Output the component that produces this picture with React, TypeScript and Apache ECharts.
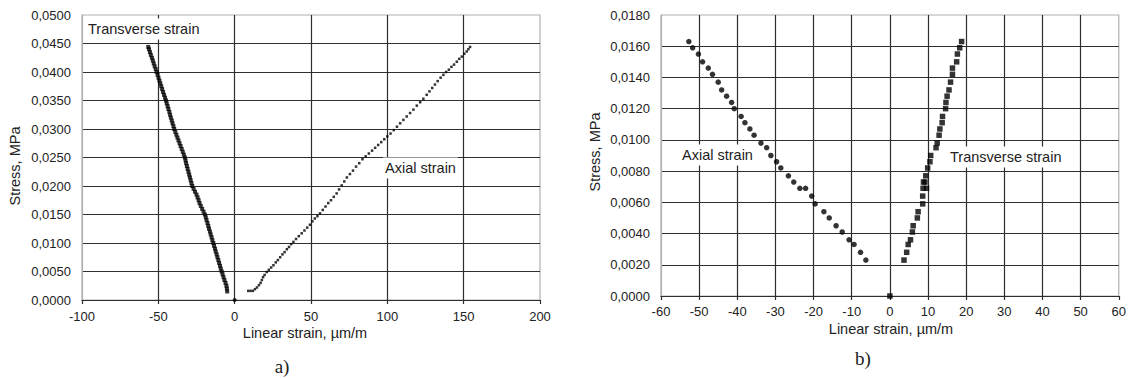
import React, { useEffect, useRef } from "react";
import * as echarts from "echarts";

// ---- Chart a) data: [linear strain µm/m, stress MPa]
const transverseA: number[][] = [
  [-4.9, 0.0015], [-5.1, 0.002], [-5.4, 0.0025], [-6.0, 0.003], [-6.7, 0.0035], [-7.3, 0.004], [-7.9, 0.0045], [-8.5, 0.005],
  [-9.1, 0.0055], [-9.6, 0.006], [-10.2, 0.0065], [-10.7, 0.007], [-11.3, 0.0075], [-11.8, 0.008], [-12.4, 0.0085], [-12.9, 0.009], [-13.5, 0.0095], [-14.0, 0.01],
  [-14.6, 0.0105], [-15.1, 0.011], [-15.7, 0.0115], [-16.2, 0.012], [-16.8, 0.0125], [-17.3, 0.013], [-17.8, 0.0135], [-18.4, 0.014], [-18.9, 0.0145], [-19.5, 0.015],
  [-20.4, 0.0155], [-21.3, 0.016], [-22.2, 0.0165], [-23.0, 0.017], [-23.6, 0.0175], [-24.3, 0.018], [-25.0, 0.0185], [-26.0, 0.019], [-26.9, 0.0195], [-27.8, 0.02],
  [-28.3, 0.0205], [-28.8, 0.021], [-29.3, 0.0215], [-29.8, 0.022], [-30.3, 0.0225], [-30.8, 0.023], [-31.3, 0.0235], [-31.8, 0.024], [-32.2, 0.0245], [-32.6, 0.025],
  [-33.3, 0.0255], [-34.0, 0.026], [-34.7, 0.0265], [-35.4, 0.027], [-36.1, 0.0275], [-36.8, 0.028], [-37.5, 0.0285], [-38.2, 0.029], [-38.9, 0.0295], [-39.6, 0.03],
  [-40.1, 0.0305], [-40.7, 0.031], [-41.2, 0.0315], [-41.8, 0.032], [-42.3, 0.0325], [-42.8, 0.033], [-43.4, 0.0335], [-43.9, 0.034], [-44.5, 0.0345], [-45.0, 0.035],
  [-45.6, 0.0355], [-46.3, 0.036], [-46.9, 0.0365], [-47.5, 0.037], [-48.1, 0.0375], [-48.7, 0.038], [-49.3, 0.0385], [-49.9, 0.039], [-50.5, 0.0395], [-51.1, 0.04],
  [-51.7, 0.0405], [-52.4, 0.041], [-53.0, 0.0415], [-53.6, 0.042], [-54.2, 0.0425], [-54.9, 0.043], [-55.5, 0.0435], [-56.1, 0.044], [-56.6, 0.0444],
];

const axialA: number[][] = [
  [8.9, 0.0016], [10.4, 0.0016], [11.9, 0.0016], [13.3, 0.0019], [14.6, 0.0022], [15.9, 0.0026], [17.0, 0.003], [17.8, 0.0035],
  [18.6, 0.004], [19.6, 0.0044], [21.0, 0.0049], [22.4, 0.0053], [23.9, 0.0057], [25.4, 0.0061], [26.9, 0.0066], [28.3, 0.007],
  [29.8, 0.0075], [31.3, 0.008], [32.7, 0.0084], [34.2, 0.0089], [35.6, 0.0093], [37.0, 0.0098], [38.5, 0.0102], [40.2, 0.0107],
  [42.0, 0.0112], [43.9, 0.0117], [45.7, 0.0122], [47.5, 0.0127], [49.3, 0.0132], [50.9, 0.0138], [52.5, 0.0143], [54.2, 0.0147],
  [55.9, 0.0152], [57.7, 0.0158], [59.5, 0.0164], [61.3, 0.017], [63.1, 0.0175], [64.9, 0.0181], [66.8, 0.0187], [68.4, 0.0194],
  [70.1, 0.0201], [71.8, 0.0208], [73.5, 0.0215], [75.5, 0.0221], [77.5, 0.0227], [79.5, 0.0234], [81.6, 0.024], [83.7, 0.0247],
  [85.8, 0.0252], [87.9, 0.0257], [90.0, 0.0262], [92.0, 0.0267], [94.0, 0.0272], [96.0, 0.0277], [98.0, 0.0282], [100.0, 0.0287],
  [102.1, 0.0292], [104.2, 0.0298], [106.3, 0.0304], [108.4, 0.031], [110.5, 0.0316], [112.7, 0.0322], [114.9, 0.0328], [117.1, 0.0334],
  [119.3, 0.0341], [121.5, 0.0347], [123.6, 0.0353], [125.8, 0.036], [127.6, 0.0366], [129.4, 0.0372], [131.2, 0.0378], [133.0, 0.0384],
  [134.9, 0.039], [136.7, 0.0395], [138.5, 0.04], [140.3, 0.0404], [142.0, 0.0409], [143.7, 0.0413], [145.5, 0.0418], [147.1, 0.0423],
  [148.8, 0.0427], [150.4, 0.0432], [152.0, 0.0436], [153.1, 0.044], [154.2, 0.0444],
];

const originA: number[][] = [[0, 0]];

// ---- Chart b) data
const axialB: number[][] = [
  [-52.7, 0.0163], [-51.7, 0.0159], [-50.2, 0.0155], [-49.1, 0.015], [-47.6, 0.0146], [-46.5, 0.0142], [-45.0, 0.0137], [-44.1, 0.0132],
  [-42.8, 0.0128], [-41.5, 0.0124], [-40.8, 0.012], [-39.0, 0.0115], [-38.0, 0.0111], [-36.7, 0.0107], [-35.6, 0.0103], [-33.8, 0.0098],
  [-32.3, 0.0095], [-31.2, 0.009], [-29.7, 0.0086], [-28.6, 0.0082], [-26.6, 0.0077], [-25.2, 0.0073], [-23.6, 0.0069], [-22.1, 0.0069],
  [-20.5, 0.0064], [-19.6, 0.0059], [-17.3, 0.0054], [-15.9, 0.005], [-14.1, 0.0045], [-12.5, 0.0041], [-10.7, 0.0036], [-9.4, 0.0033],
  [-7.7, 0.0028], [-6.3, 0.0023],
];

const transverseB: number[][] = [
  [3.7, 0.0023], [4.4, 0.0028], [4.8, 0.0033], [5.4, 0.0036], [5.9, 0.0041], [6.1, 0.0045], [7.2, 0.005], [7.4, 0.0054],
  [8.6, 0.0059], [8.6, 0.0064], [8.7, 0.0069], [9.6, 0.0069], [8.8, 0.0073], [9.2, 0.0073], [9.4, 0.0077], [9.9, 0.0082],
  [10.5, 0.0086], [10.7, 0.009], [12.1, 0.0095], [12.4, 0.0098], [12.9, 0.0103], [13.1, 0.0107], [13.7, 0.0111], [13.8, 0.0115],
  [14.6, 0.012], [14.7, 0.0124], [15.0, 0.0128], [15.5, 0.0132], [15.9, 0.0137], [16.4, 0.0142], [16.4, 0.0146], [17.5, 0.015],
  [17.7, 0.0155], [18.3, 0.0159], [18.8, 0.0163],
];

const originB: number[][] = [[0, 0]];

const xTicksA = { min: -100, max: 200, interval: 50 };
const yTicksA = { min: 0, max: 0.05, interval: 0.005 };
const xTicksB = { min: -60, max: 60, interval: 10 };
const yTicksB = { min: 0, max: 0.018, interval: 0.002 };

const FONT = "'Liberation Sans', Arial, sans-serif";
const SERIF = "'Liberation Serif', 'Times New Roman', serif";
const TXT = "#222";
const GRIDC = "#2e2e2e";
const BORDER = "#b0b0b0";

function xAxis(gridIndex: number, t: any, margin: number) {
  return {
    type: "value",
    gridIndex,
    min: t.min,
    max: t.max,
    interval: t.interval,
    axisLine: { show: true, onZero: false, lineStyle: { color: GRIDC, width: 1.2 } },
    axisTick: { show: true, length: 4, lineStyle: { color: GRIDC, width: 1.2 } },
    axisLabel: { color: TXT, fontFamily: FONT, fontSize: 13, margin },
    splitLine: { show: true, showMinLine: false, showMaxLine: false, lineStyle: { color: GRIDC, width: 1.2, opacity: 1 } },
  };
}

function yAxis(gridIndex: number, t: any) {
  return {
    type: "value",
    gridIndex,
    min: t.min,
    max: t.max,
    interval: t.interval,
    axisLine: { show: true, onZero: false, lineStyle: { color: BORDER, width: 1.2 } },
    axisTick: { show: false },
    axisLabel: {
      color: TXT,
      fontFamily: FONT,
      fontSize: 13,
      margin: 11,
      formatter: (v: number) => v.toFixed(4).replace(".", ","),
    },
    splitLine: { show: true, showMinLine: false, showMaxLine: false, lineStyle: { color: GRIDC, width: 1.2, opacity: 1 } },
  };
}

function label(text: string, x: number, y: number, opts: any = {}) {
  return {
    type: "text",
    x,
    y,
    z: 100,
    rotation: opts.rotation || 0,
    style: {
      text,
      fill: TXT,
      font: `${opts.size || 14.5}px ${opts.family || FONT}`,
      textAlign: opts.align || "center",
      textVerticalAlign: "middle",
      backgroundColor: opts.bg,
      padding: opts.bg ? [3, 2, 3, 2] : 0,
    },
  };
}

export default function App() {
  const ref = useRef<HTMLDivElement>(null);
  useEffect(() => {
    if (!ref.current) return;
    const chart = echarts.init(ref.current, undefined, { renderer: "svg" });
    chart.setOption({
      animation: false,
      backgroundColor: "#fff",
      grid: [
        { left: 82, top: 15, width: 458, height: 285, show: true, borderColor: BORDER, borderWidth: 1.2, backgroundColor: "transparent" },
        { left: 661, top: 15, width: 458, height: 281, show: true, borderColor: BORDER, borderWidth: 1.2, backgroundColor: "transparent" },
      ],
      xAxis: [xAxis(0, xTicksA, 10), xAxis(1, xTicksB, 9)],
      yAxis: [yAxis(0, yTicksA), yAxis(1, yTicksB)],
      series: [
        { type: "scatter", xAxisIndex: 0, yAxisIndex: 0, data: transverseA, symbol: "rect", symbolSize: 4, itemStyle: { color: "#000" } },
        { type: "scatter", xAxisIndex: 0, yAxisIndex: 0, data: axialA, symbol: "rect", symbolSize: 2.5, itemStyle: { color: "#000" } },
        { type: "scatter", xAxisIndex: 0, yAxisIndex: 0, data: originA, symbol: "circle", symbolSize: 4, itemStyle: { color: "#000" } },
        { type: "scatter", xAxisIndex: 1, yAxisIndex: 1, data: axialB, symbol: "circle", symbolSize: 5.5, itemStyle: { color: "#000" } },
        { type: "scatter", xAxisIndex: 1, yAxisIndex: 1, data: transverseB, symbol: "rect", symbolSize: 5.5, itemStyle: { color: "#000" } },
        { type: "scatter", xAxisIndex: 1, yAxisIndex: 1, data: originB, symbol: "rect", symbolSize: 5.5, itemStyle: { color: "#000" } },
      ],
      graphic: [
        label("Stress, MPa", 15, 166, { rotation: Math.PI / 2 }),
        label("Linear strain, µm/m", 305, 333),
        label("Transverse strain", 86, 29, { align: "left", bg: "#fff" }),
        label("Axial strain", 383, 168, { align: "left", bg: "#fff" }),
        label("a)", 282, 366, { size: 19, family: SERIF }),
        label("Stress, MPa", 595, 152, { rotation: Math.PI / 2 }),
        label("Linear strain, µm/m", 891, 329),
        label("Axial strain", 680, 155, { align: "left", bg: "#fff" }),
        label("Transverse strain", 948, 157, { align: "left", bg: "#fff" }),
        label("b)", 863, 358, { size: 19, family: SERIF }),
      ],
    });
    return () => chart.dispose();
  }, []);
  return (
    <div
      ref={ref}
      style={{ position: "fixed", left: 0, top: 0, width: 1129, height: 378, background: "#fff" }}
    />
  );
}
